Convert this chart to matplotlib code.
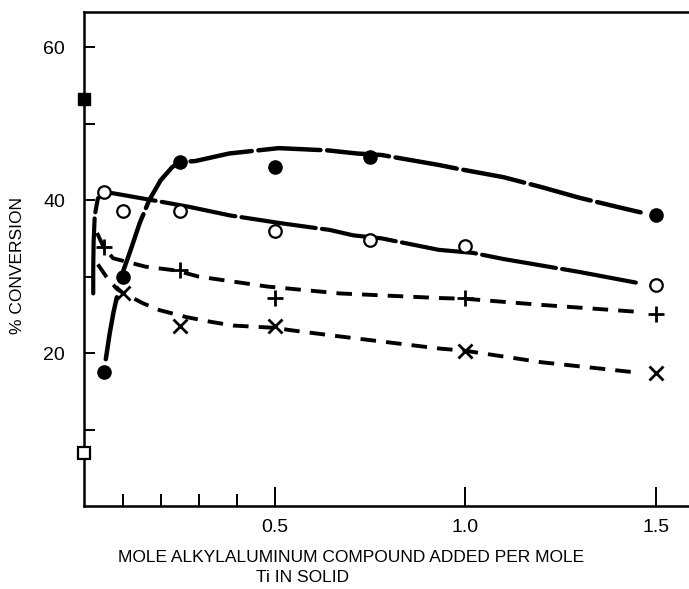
import matplotlib
matplotlib.use("Agg")
import matplotlib.pyplot as plt
from matplotlib.ticker import FixedLocator

plt.rcParams['font.family'] = ['Liberation Sans', 'DejaVu Sans']

# ---- data points ----
filled_x = [0.05, 0.10, 0.25, 0.50, 0.75, 1.50]
filled_y = [17.5, 30.0, 45.0, 44.3, 45.7, 38.0]

open_x = [0.05, 0.10, 0.25, 0.50, 0.75, 1.00, 1.50]
open_y = [41.0, 38.6, 38.6, 35.9, 34.8, 34.0, 28.9]

plus_x = [0.05, 0.25, 0.50, 1.00, 1.50]
plus_y = [33.9, 30.8, 27.2, 27.2, 25.1]

cross_x = [0.10, 0.25, 0.50, 1.00, 1.50]
cross_y = [27.9, 23.6, 23.5, 20.3, 17.4]

sq_filled_x = [0.0]
sq_filled_y = [53.2]
sq_open_x = [0.0]
sq_open_y = [6.9]

# ---- hand-drawn fit curves ----
fcurve_lo_x = [0.056, 0.066, 0.076, 0.085]
fcurve_lo_y = [19.2, 22.5, 25.3, 27.3]
fcurve_x = [0.10, 0.12, 0.145, 0.17, 0.20, 0.23, 0.25, 0.29, 0.38, 0.51, 0.64,
            0.715, 0.78, 0.93, 0.98, 1.10, 1.20, 1.30, 1.40, 1.46]
fcurve_y = [30.5, 33.3, 37.0, 40.0, 42.6, 44.3, 45.0, 45.1, 46.1, 46.8, 46.5,
            46.1, 45.9, 44.6, 44.1, 43.0, 41.7, 40.3, 39.1, 38.4]

ocurve_x = [0.023, 0.023, 0.024, 0.027, 0.035, 0.05, 0.075, 0.20, 0.277, 0.382,
            0.513, 0.644, 0.705, 0.78, 0.93, 1.02, 1.10, 1.30, 1.46]
ocurve_y = [27.8, 31.0, 34.5, 38.0, 40.2, 41.0, 40.9, 39.8, 39.1, 38.0,
            37.0, 36.1, 35.4, 35.0, 33.5, 33.1, 32.3, 30.6, 29.1]

pcurve_x = [0.033, 0.05, 0.075, 0.16, 0.24, 0.30, 0.48, 0.67, 0.93, 1.00,
            1.20, 1.45]
pcurve_y = [35.7, 33.9, 32.4, 31.3, 30.8, 30.0, 28.7, 27.8, 27.2, 27.1,
            26.3, 25.4]

xcurve_x = [0.035, 0.06, 0.085, 0.10, 0.154, 0.198, 0.268, 0.33, 0.39, 0.50,
            0.54, 0.65, 0.93, 1.00, 1.20, 1.46]
xcurve_y = [31.6, 29.8, 28.4, 27.9, 26.5, 25.6, 24.7, 24.1, 23.6, 23.3,
            23.0, 22.3, 20.6, 20.3, 18.8, 17.4]

y_major = [20, 40, 60]
y_minor = [10, 30, 50]
x_major = [0.5, 1.0, 1.5]
x_major_labels = ['0.5', '1.0', '1.5']
x_minor = [0.1, 0.2, 0.3, 0.4]

fig = plt.figure(figsize=(6.89, 5.89), dpi=100)
ax = fig.add_axes([0.1226, 0.1409, 0.8774, 0.8387])
ax.set_xlim(0, 1.587)
ax.set_ylim(0, 64.6)

k = 'black'
# curves
ax.plot(fcurve_lo_x, fcurve_lo_y, color=k, lw=3.2, solid_capstyle='round')
ax.plot(fcurve_x, fcurve_y, color=k, lw=3.2, dashes=(14, 1.5), dash_capstyle='round')
ax.plot(ocurve_x, ocurve_y, color=k, lw=3.0, dashes=(18, 1.5), dash_capstyle='round')
ax.plot(pcurve_x, pcurve_y, color=k, lw=2.8, dashes=(4.0, 2.6))
ax.plot(xcurve_x, xcurve_y, color=k, lw=2.8, dashes=(4.0, 2.6))

# markers
ax.plot(filled_x, filled_y, 'o', color=k, ms=9.5, zorder=5, clip_on=False)
ax.plot(open_x, open_y, 'o', mfc='white', mec=k, mew=1.6, ms=9, zorder=5)
ax.plot(plus_x, plus_y, '+', color=k, ms=12, mew=2.0, zorder=5)
ax.plot(cross_x, cross_y, 'x', color=k, ms=9.5, mew=2.0, zorder=5)
ax.plot(sq_filled_x, sq_filled_y, 's', color=k, ms=8.5, zorder=6, clip_on=False)
ax.plot(sq_open_x, sq_open_y, 's', mfc='white', mec=k, mew=1.6, ms=8.5, zorder=6, clip_on=False)

# spines
for s in ['left', 'bottom', 'top']:
    ax.spines[s].set_linewidth(1.8)
ax.spines['right'].set_visible(False)

ax.yaxis.set_major_locator(FixedLocator(y_major))
ax.yaxis.set_minor_locator(FixedLocator(y_minor))
ax.xaxis.set_major_locator(FixedLocator(x_major))
ax.xaxis.set_minor_locator(FixedLocator(x_minor))
ax.set_xticklabels(x_major_labels)
ax.tick_params(axis='y', which='both', direction='in', length=8, width=1.4,
               labelsize=14, pad=14, right=False)
ax.tick_params(axis='x', which='major', direction='in', length=13.5, width=1.4,
               labelsize=14, pad=9, top=False)
ax.tick_params(axis='x', which='minor', direction='in', length=8.5, width=1.4, top=False)

fig.text(18 / 689, 1 - 266 / 589, '% CONVERSION', rotation=90,
         ha='center', va='center', fontsize=12.5)
fig.text(351 / 689, 1 - 557 / 589, 'MOLE ALKYLALUMINUM COMPOUND ADDED PER MOLE',
         ha='center', va='center', fontsize=12.5)
fig.text(303 / 689, 1 - 578 / 589, 'Ti IN SOLID',
         ha='center', va='center', fontsize=12.5)

fig.savefig('out.png', dpi=100)
